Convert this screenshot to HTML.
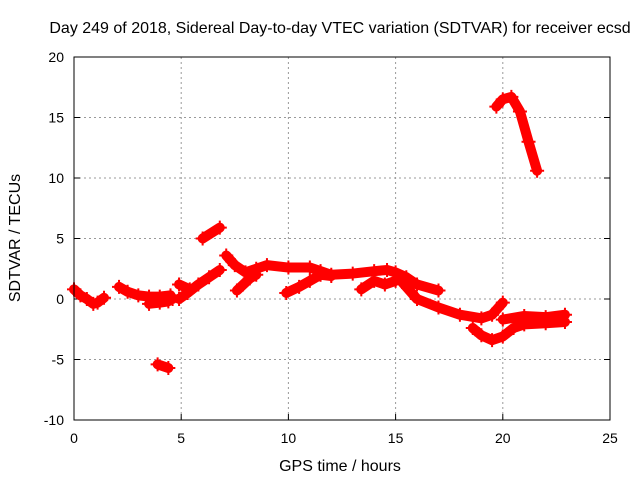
<!DOCTYPE html>
<html><head><meta charset="utf-8"><style>
body{margin:0;background:#fff;}
svg{display:block;font-family:"Liberation Sans",sans-serif;}
</style></head><body>
<svg id="chart" width="640" height="480">
<text x="340" y="33" font-size="16" text-anchor="middle">Day 249 of 2018, Sidereal Day-to-day VTEC variation (SDTVAR) for receiver ecsd</text>
<text x="340" y="471" font-size="16" text-anchor="middle">GPS time / hours</text>
<text x="0" y="0" font-size="16" text-anchor="middle" transform="translate(20,238) rotate(-90)">SDTVAR / TECUs</text>
<g id="grid"></g><g id="series"></g>
<rect x="74" y="57" width="536" height="363" fill="none" stroke="#000" stroke-width="1"/>
</svg>
<script>
const xTicks=[0,5,10,15,20,25];
const yTicks=[-10,-5,0,5,10,15,20];
const segments=[
[[0,0.8],[0.3,0.3],[0.6,0],[0.9,-0.4],[1.1,-0.3],[1.4,0.1]],
[[2.1,1.0],[2.5,0.6],[3,0.3],[3.5,0.2],[4,0.2],[4.5,0.3],[4.6,0]],
[[3.5,-0.4],[4.0,-0.3],[4.4,-0.2]],
[[3.9,-5.4],[4.4,-5.7]],
[[4.9,0],[5.3,0.5],[5.8,1.2],[6.3,1.8],[6.8,2.4]],
[[4.9,1.2],[5.4,0.8]],
[[6.0,5.0],[6.8,5.9]],
[[7.1,3.6],[7.5,2.8],[8,2.2],[8.5,2.5],[9,2.8],[10,2.6],[11,2.6],[11.5,2.3],[12,2.0],[13,2.1],[14,2.3],[14.6,2.4],[15,2.2],[15.5,1.8],[16,1.2],[17,0.7]],
[[7.6,0.7],[8.2,1.7],[8.5,2.0]],
[[9.9,0.5],[10.5,1.0],[11,1.5],[11.5,2.0],[12,1.9]],
[[13.4,0.8],[14,1.5],[14.5,1.2],[15,1.5]],
[[15.3,1.4],[16,0],[17,-0.7],[18,-1.3],[19,-1.6],[19.5,-1.3],[20,-0.3]],
[[18.6,-2.4],[19,-3],[19.5,-3.4],[20,-3.1],[20.5,-2.4],[21,-2.1],[22,-2.0],[22.9,-1.9]],
[[20,-1.7],[21,-1.4],[22,-1.5],[22.9,-1.3]],
[[19.7,15.9],[20,16.5],[20.4,16.7],[20.8,15.5],[21.2,13],[21.6,10.6]]
];
const L=74,R=610,T=57,B=420;
const sx=v=>L+(v-0)/25*(R-L);
const sy=v=>B-(v+10)/30*(B-T);
const NS="http://www.w3.org/2000/svg";
const g=document.getElementById('grid'),s=document.getElementById('series');
function mk(tag,attrs,parent){const e=document.createElementNS(NS,tag);for(const k in attrs)e.setAttribute(k,attrs[k]);parent.appendChild(e);return e;}
xTicks.forEach(t=>{
 const x=sx(t);
 if(t>0&&t<25){const l=mk('line',{x1:x,x2:x,y1:T,y2:B,stroke:'#999','stroke-dasharray':'2,3'},g);
 
 }
 const k=mk('line',{x1:x,x2:x,y1:B,y2:B-6,stroke:'#000'},g);
 
 
 const tx=mk('text',{x:x,y:B+23,'font-size':14,'text-anchor':'middle'},g);tx.textContent=t;
 
 
});
yTicks.forEach(t=>{
 const y=sy(t);
 if(t>-10&&t<20){const l=mk('line',{x1:L,x2:R,y1:y,y2:y,stroke:'#999','stroke-dasharray':'2,3'},g);
 
 }
 const k=mk('line',{x1:L,x2:L+6,y1:y,y2:y,stroke:'#000'},g);
 
 
 const k2=mk('line',{x1:R,x2:R-6,y1:y,y2:y,stroke:'#000'},g);
 
 
 const tx=mk('text',{x:L-10,y:y+5,'font-size':14,'text-anchor':'end'},g);tx.textContent=t;
 
 
});
segments.forEach(seg=>{
 const p=mk('polyline',{points:seg.map(d=>sx(d[0])+','+sy(d[1])).join(' '),fill:'none',stroke:'#f00','stroke-width':10,'stroke-linejoin':'round','stroke-linecap':'round'},s);
 
 
 seg.forEach(d=>{
  const x=sx(d[0]),y=sy(d[1]);
  const m=mk('path',{d:`M${x-7},${y}H${x+7}M${x},${y-7}V${y+7}`,stroke:'#f00','stroke-width':2},s);
  
  
 });
});
</script>
</body></html>
